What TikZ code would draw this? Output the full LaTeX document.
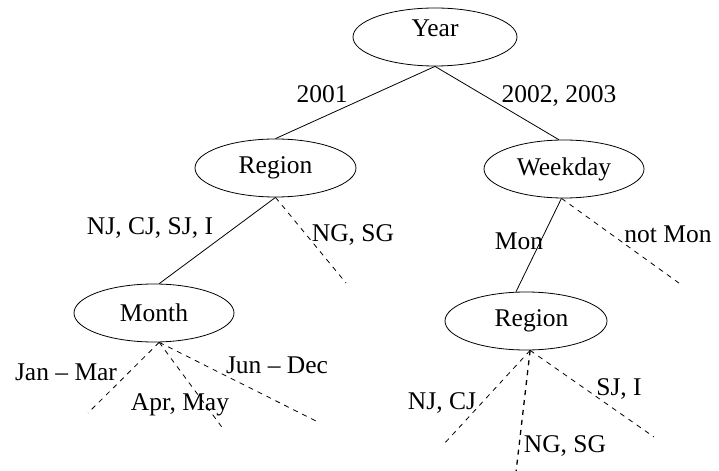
\documentclass[tikz,border=0pt]{standalone}
\usepackage{fontspec}
\setmainfont{Liberation Serif}
\usetikzlibrary{shapes.geometric}
\begin{document}
\begin{tikzpicture}[x=1bp,y=-1bp,
  font=\fontsize{25.5bp}{30bp}\selectfont,
  attr/.style={draw, ellipse, minimum width=161bp, minimum height=58bp, inner sep=0pt, line width=0.8bp},
  branch/.style={line width=0.8bp},
  pruned/.style={line width=0.8bp, dash pattern=on 5bp off 5bp},
  lbl/.style={anchor=base, inner sep=0pt}]
\useasboundingbox (0,0) rectangle (719,471);

% decision nodes
\node[attr, minimum width=164bp] (year) at (435,37) {\smash{Year}};
\node[attr] (reg1) at (275.5,168) {Region};
\node[attr, minimum width=160bp] (week) at (564,169) {Weekday};
\node[attr, minimum width=160bp] (month) at (154,313) {Month};
\node[attr, minimum width=162bp] (reg2) at (526,321) {\hspace*{11bp}Region};

% free ends of the pruned branches
\coordinate (ngsg1) at (346,283);
\coordinate (notmon) at (683,286);
\coordinate (janmar) at (88,413);
\coordinate (aprmay) at (224,430);
\coordinate (jundec) at (320,423);
\coordinate (njcj) at (443,445);
\coordinate (ngsg2) at (516,472);
\coordinate (sji) at (654,437);

% branches
\draw[branch] (year.south) -- (reg1.north);
\draw[branch] (year.south) -- (week.100);
\draw[branch] (reg1.south) -- (month.80);
\draw[pruned] (reg1.south) -- (ngsg1);
\draw[branch] (week.-95) -- (reg2.109);
\draw[pruned] (week.-95) -- (notmon);
\draw[pruned] (month.-80) -- (janmar);
\draw[pruned] (month.-80) -- (aprmay);
\draw[pruned] (month.-80) -- (jundec);
\draw[pruned] (reg2.-82) -- (njcj);
\draw[pruned, line width=1.3bp] (reg2.-82) -- (ngsg2);
\draw[pruned] (reg2.-82) -- (sji);

% branch labels
\node[lbl] (l2001) at (322,103) {2001};
\node[lbl] (l2002) at (559,103) {2002, 2003};
\node[lbl] (lnjsj) at (150,235) {NJ, CJ, SJ, I};
\node[lbl] (lngsg1) at (353,242) {NG, SG};
\node[lbl] (lmon) at (519,250) {Mon};
\node[lbl] (lnotmon) at (668,243) {not Mon};
\node[lbl] (ljan) at (66,380) {Jan – Mar};
\node[lbl] (lapr) at (180,410) {Apr, May};
\node[lbl] (ljun) at (277,373) {Jun – Dec};
\node[lbl] (lnjcj) at (442,409) {NJ, CJ};
\node[lbl] (lsji) at (619,395) {SJ, I};
\node[lbl] (lngsg2) at (565,452) {NG, SG};
\end{tikzpicture}
\end{document}
